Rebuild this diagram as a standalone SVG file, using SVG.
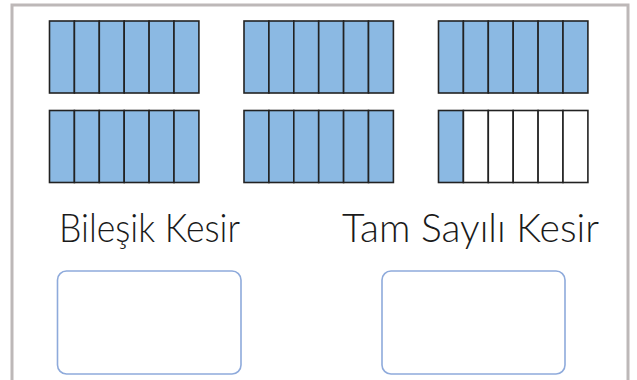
<svg xmlns="http://www.w3.org/2000/svg" width="637" height="380" viewBox="0 0 637 380">
<style>
.frame{fill:none;stroke:#bdb8b8;stroke-width:3}
.cell{fill:#8bb9e3;stroke:#222;stroke-width:1.6}
.empty{fill:#fff;stroke:#222;stroke-width:1.6}
.lbl{font-family:Lato,"Noto Sans",sans-serif;font-size:40px;font-weight:300;fill:#1a1a1a}
.box{fill:#fff;stroke:#8eaadb;stroke-width:1.6}
</style>
<rect width="637" height="380" fill="#fff"/>
<rect class="frame" x="12" y="5" width="616" height="400"/>
<defs>
<g id="full">
<rect class="cell" x="0" y="0" width="24.9" height="72"/>
<rect class="cell" x="24.9" y="0" width="24.9" height="72"/>
<rect class="cell" x="49.8" y="0" width="24.9" height="72"/>
<rect class="cell" x="74.7" y="0" width="24.9" height="72"/>
<rect class="cell" x="99.6" y="0" width="24.9" height="72"/>
<rect class="cell" x="124.5" y="0" width="24.9" height="72"/>
</g>
</defs>
<g id="grid1"><use href="#full" x="49.5" y="21"/></g>
<g id="grid2"><use href="#full" x="244" y="21"/></g>
<g id="grid3"><use href="#full" x="438.5" y="21"/></g>
<g id="grid4"><use href="#full" x="49.5" y="110.5"/></g>
<g id="grid5"><use href="#full" x="244" y="110.5"/></g>
<g id="grid6">
<rect class="cell" x="438.5" y="110.5" width="24.9" height="72"/>
<rect class="empty" x="463.4" y="110.5" width="24.9" height="72"/>
<rect class="empty" x="488.3" y="110.5" width="24.9" height="72"/>
<rect class="empty" x="513.2" y="110.5" width="24.9" height="72"/>
<rect class="empty" x="538.1" y="110.5" width="24.9" height="72"/>
<rect class="empty" x="563" y="110.5" width="24.9" height="72"/>
</g>
<g id="label1"><text class="lbl" x="59" y="242" textLength="181" lengthAdjust="spacingAndGlyphs">Bileşik Kesir</text></g>
<g id="label2"><text class="lbl" x="342" y="242" textLength="257" lengthAdjust="spacingAndGlyphs">Tam Sayılı Kesir</text></g>
<g id="answer1"><rect class="box" x="57.5" y="271" width="183.5" height="103" rx="9"/></g>
<g id="answer2"><rect class="box" x="382" y="271" width="183" height="103" rx="9"/></g>
<g id="connectors"/>
</svg>
